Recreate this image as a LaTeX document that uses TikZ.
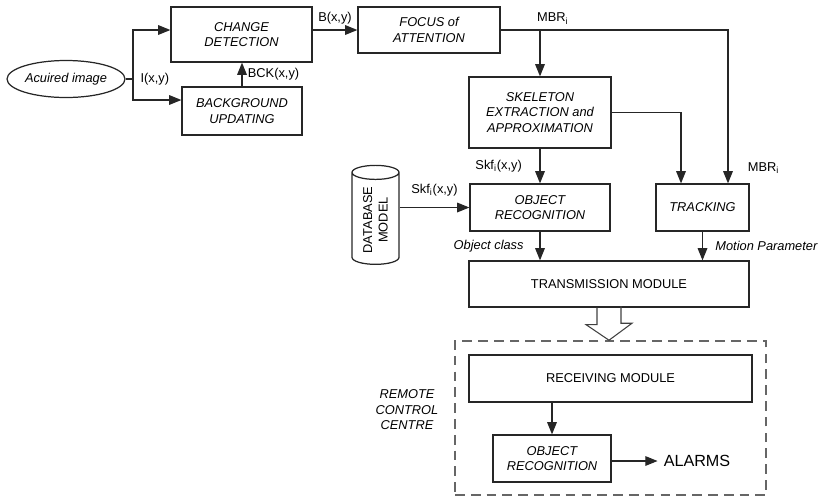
\documentclass[tikz,border=0pt]{standalone}
\usepackage{fontspec}
\setmainfont{Liberation Sans}
\usetikzlibrary{positioning, shapes.geometric, arrows.meta}

\begin{document}
\begin{tikzpicture}[
        x=0.02cm, y=-0.02cm,
        font=\fontsize{7.3}{8.8}\selectfont,
        blk/.style={rectangle, draw=black!85, line width=0.7pt, align=center, inner sep=1pt},
        iblk/.style={blk, font=\fontsize{7.3}{8.8}\selectfont\itshape},
        dbase/.style={cylinder, draw=black!85, line width=0.7pt, rotate=90, aspect=0.5,
            minimum width=0.94cm, minimum height=1.98cm, align=center, inner sep=1pt},
        arr/.style={-{Triangle[length=7pt, width=5.5pt]}, line width=0.7pt, draw=black!85},
        lbl/.style={inner sep=1pt},
        ilbl/.style={inner sep=1pt, font=\fontsize{7.3}{8.8}\selectfont\itshape}
    ]
    \useasboundingbox (0,0) rectangle (825,498);

    % acquisition and change detection
    \node[ellipse, draw=black!85, line width=0.7pt, minimum width=2.36cm, minimum height=0.74cm,
        inner sep=0pt, font=\fontsize{7.3}{8.8}\selectfont\itshape] (img) at (66,79) {Acuired image};
    \coordinate (j) at (133,79);
    \node[iblk, minimum width=2.82cm, minimum height=1.1cm] (cd)  at (241.5,34.5) {CHANGE\\DETECTION};
    \node[iblk, minimum width=2.4cm, minimum height=0.96cm] (bg)  at (242,111) {BACKGROUND\\UPDATING};
    \node[iblk, minimum width=2.84cm, minimum height=0.92cm] (foa) at (429,30) {FOCUS of\\ATTENTION};

    % analysis
    \node[iblk, minimum width=2.84cm, minimum height=1.42cm] (ske)  at (540,112.5) {SKELETON\\EXTRACTION and\\APPROXIMATION};
    \node[iblk, minimum width=2.8cm, minimum height=0.94cm] (orec) at (540,207.5) {OBJECT\\RECOGNITION};
    \node[iblk, minimum width=1.86cm, minimum height=0.94cm] (trk)  at (702.5,207.5) {TRACKING};
    \node[dbase] (db) at (375.5,220) {DATABASE\\MODEL};
    \node[blk, minimum width=5.6cm, minimum height=0.92cm] (tx) at (609,284) {TRANSMISSION MODULE};

    % remote control centre
    \node[rectangle, draw=black!60, line width=0.9pt, dash pattern=on 5.5pt off 3.5pt,
        minimum width=6.22cm, minimum height=3.08cm] (rcc) at (610.5,418) {};
    \node[blk, minimum width=5.66cm, minimum height=0.94cm] (rx) at (610.5,378.5) {RECEIVING MODULE};
    \node[iblk, minimum width=2.36cm, minimum height=0.94cm] (orec2) at (552,458.5) {OBJECT\\RECOGNITION};
    \node[font=\fontsize{9.2}{11}\selectfont] (alarms) at (697,461) {ALARMS};
    \node[ilbl, align=center] (rlbl) at (407,410) {REMOTE\\CONTROL\\CENTRE};

    % connectors
    \draw[line width=0.7pt, draw=black!85] (img.east) -- (j) node[lbl, right=3pt]{I(x,y)};
    \draw[arr] (j) |- (cd.west |- foa.west);
    \draw[arr] (j) |- ([yshift=0.22cm]bg.west);
    \draw[arr] (bg.north) -- node[lbl, right=2pt]{BCK(x,y)} (bg.north |- cd.south);
    \draw[arr] (cd.east |- foa.west) -- node[lbl, above=2pt]{B(x,y)} (foa.west);
    \draw[arr] (foa.east) -| node[lbl, pos=0.95, right=10pt]{MBR\textsubscript{i}} ([xshift=0.51cm]trk.north);
    \draw[arr] (ske.north |- foa.east) node[lbl, above right=2pt and -3pt]{MBR\textsubscript{i}} -- (ske.north);
    \draw[arr] (ske.east) -| ([xshift=-0.43cm]trk.north);
    \draw[arr] (ske.south) -- node[lbl, left=9pt]{Skf\textsubscript{i}(x,y)} (orec.north);
    \draw[arr] (db.south |- orec.west) -- node[lbl, above=5pt]{Skf\textsubscript{i}(x,y)} (orec.west);
    \draw[arr] (orec.south) -- node[ilbl, left=8pt]{Object class} (orec.south |- tx.north);
    \draw[arr] (trk.south) -- node[ilbl, right=6pt]{Motion Parameter} (trk.south |- tx.north);
    \draw[line width=0.6pt, draw=black!75] (tx.south) ++(-12,0) -- ++(0,17) -- ++(-11,0)
        -- (tx.south |- rcc.north) -- ++(23,-17) -- ++(-11,0) -- ++(0,-17);
    \draw[arr] (orec2.north |- rx.south) -- (orec2.north);
    \draw[arr] (orec2.east |- alarms.west) -- (alarms.west);
\end{tikzpicture}
\end{document}
